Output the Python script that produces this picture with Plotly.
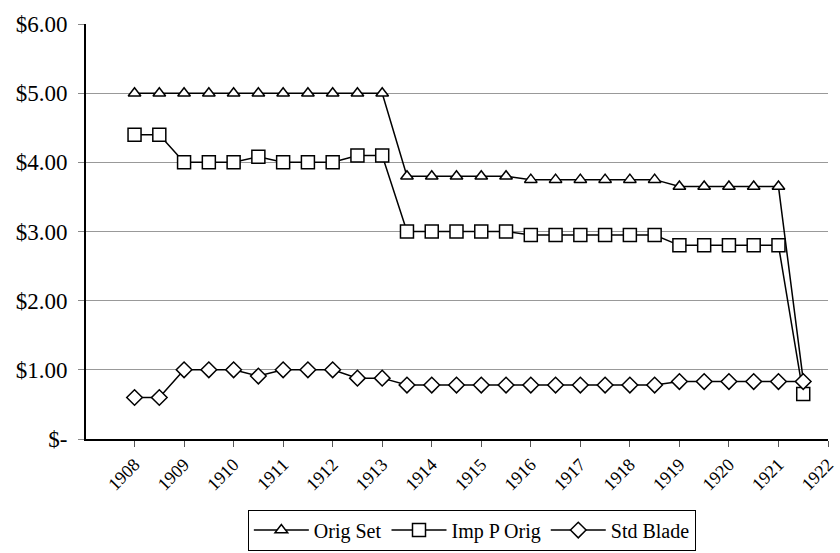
import plotly.graph_objects as go

years = [1908 + 0.5 * i for i in range(28)]

orig_set = [5.00, 5.00, 5.00, 5.00, 5.00, 5.00, 5.00, 5.00, 5.00, 5.00, 5.00,
            3.80, 3.80, 3.80, 3.80, 3.80,
            3.75, 3.75, 3.75, 3.75, 3.75, 3.75,
            3.65, 3.65, 3.65, 3.65, 3.65,
            0.85]
imp_p_orig = [4.40, 4.40, 4.00, 4.00, 4.00, 4.08, 4.00, 4.00, 4.00, 4.10, 4.10,
              3.00, 3.00, 3.00, 3.00, 3.00,
              2.95, 2.95, 2.95, 2.95, 2.95, 2.95,
              2.80, 2.80, 2.80, 2.80, 2.80,
              0.65]
std_blade = [0.60, 0.60, 1.00, 1.00, 1.00, 0.91, 1.00, 1.00, 1.00, 0.88, 0.88,
             0.78, 0.78, 0.78, 0.78, 0.78,
             0.78, 0.78, 0.78, 0.78, 0.78, 0.78,
             0.83, 0.83, 0.83, 0.83, 0.83,
             0.83]

x_ticks = list(range(1908, 1923))
y_ticks = [0, 1, 2, 3, 4, 5, 6]
y_labels = ["$-", "$1.00", "$2.00", "$3.00", "$4.00", "$5.00", "$6.00"]

FONT = "Liberation Serif"

fig = go.Figure()
series = [("Orig Set", orig_set, "triangle-up", 11),
          ("Imp P Orig", imp_p_orig, "square", 13),
          ("Std Blade", std_blade, "diamond", 12)]
for name, vals, sym, sz in series:
    fig.add_trace(go.Scatter(
        x=years, y=vals, name=name, mode="lines+markers",
        line=dict(color="black", width=1.5),
        marker=dict(symbol=sym, size=sz, color="white",
                    line=dict(color="black", width=1.5)),
    ))

xr = [1907.02, 1922.0]
fig.update_layout(
    width=840, height=553,
    margin=dict(l=86, r=12, t=24, b=114, autoexpand=False),
    plot_bgcolor="white", paper_bgcolor="white",
    font=dict(family=FONT, color="black"),
    showlegend=True,
    legend=dict(orientation="h", x=0.52, xanchor="center", y=-0.17, yanchor="top",
                bordercolor="black", borderwidth=1, font=dict(size=20, family=FONT),
                itemwidth=55, tracegroupgap=0),
    xaxis=dict(range=xr, tickvals=x_ticks, ticktext=[str(v) for v in x_ticks],
               tickangle=-45, ticks="outside", ticklen=6, tickcolor="#555",
               ticklabeloverflow="allow", automargin=False,
               showline=True, linecolor="black", linewidth=2,
               showgrid=False, zeroline=False, tickfont=dict(size=18, family=FONT)),
    xaxis2=dict(range=xr, overlaying="x", tickvals=x_ticks, showticklabels=False,
                ticks="inside", ticklen=6, tickcolor="#555", showline=False,
                showgrid=False, zeroline=False, side="bottom", anchor="y",
                automargin=False),
    yaxis=dict(range=[0, 6], tickvals=y_ticks, ticktext=y_labels,
               ticks="outside", ticklen=6, tickcolor="#888",
               showline=True, linecolor="black", linewidth=2,
               showgrid=True, gridcolor="#999", gridwidth=1, zeroline=False,
               ticklabelstandoff=6, automargin=False,
               tickfont=dict(size=23, family=FONT)),
)

fig.write_html("out.html")
